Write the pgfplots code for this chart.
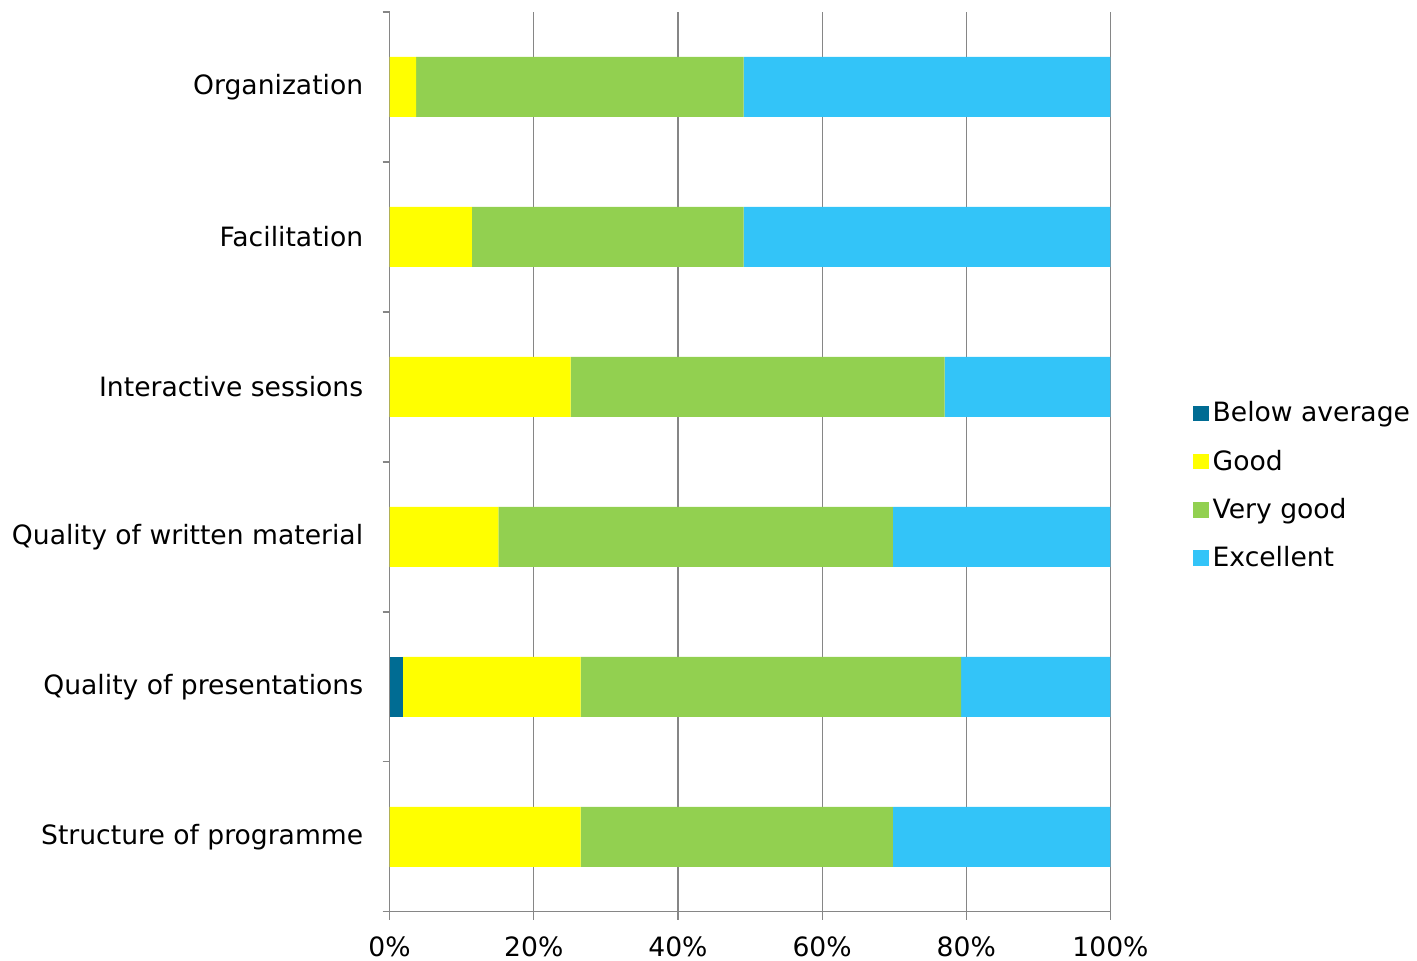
\documentclass[border=0pt]{standalone}
\usepackage{pgfplots}
\pgfplotsset{compat=1.18}
\usepackage{fontspec}
\setmainfont{DejaVu Sans}

\definecolor{cBelow}{RGB}{0,108,147}
\definecolor{cGood}{RGB}{255,255,0}
\definecolor{cVery}{RGB}{146,208,80}
\definecolor{cExc}{RGB}{51,196,248}
\definecolor{axgray}{RGB}{134,134,134}

\begin{document}
\begin{tikzpicture}
\begin{axis}[
    name=ax,
    scale only axis,
    width=360.5pt, height=450pt,
    xbar stacked,
    bar width=30pt,
    xmin=0, xmax=100,
    ymin=-0.5, ymax=5.5,
    xtick={0,20,...,100},
    xticklabel={\pgfmathprintnumber{\tick}\%},
    ytick={0,...,5},
    yticklabels={Structure of programme,Quality of presentations,Quality of written material,Interactive sessions,Facilitation,Organization},
    minor ytick={-0.5,0.5,...,5.5},
    /pgf/number format/assume math mode=true,
    font=\fontsize{13.3}{16}\selectfont,
    tick align=outside,
    major y tick style={draw=none},
    minor y tick style={draw=axgray, line width=0.6pt},
    minor tick length=3.5pt,
    xtick style={draw=axgray, line width=0.6pt},
    major tick length=4pt,
    yticklabel style={inner sep=0pt, xshift=-9pt},
    xticklabel style={inner sep=0pt, yshift=-8pt},
    xmajorgrids,
    grid style={axgray, line width=0.6pt},
    axis x line*=bottom,
    axis y line*=left,
    axis line style={axgray, line width=0.6pt},
    clip=false,
    legend style={draw=none, at={(rel axis cs:1.114,0.4736)}, anchor=west,
        row sep=8.5pt, inner sep=0pt, font=\fontsize{13.3}{16}\selectfont},
    legend cell align=left,
    legend image code/.code={\fill[#1] (0pt,-3.9pt) rectangle (7.8pt,3.9pt);},
]
\addplot[fill=cBelow, draw=none] coordinates {(0,0) (1.8,1) (0,2) (0,3) (0,4) (0,5)};
\addplot[fill=cGood, draw=none] coordinates {(26.5,0) (24.7,1) (15.1,2) (25.1,3) (11.4,4) (3.7,5)};
\addplot[fill=cVery, draw=none] coordinates {(43.3,0) (52.8,1) (54.7,2) (51.9,3) (37.7,4) (45.4,5)};
\addplot[fill=cExc, draw=none] coordinates {(30.2,0) (20.7,1) (30.2,2) (23.0,3) (50.9,4) (50.9,5)};
\legend{Below average,Good,Very good,Excellent}
\end{axis}
\path ([yshift=6pt]ax.north) ([xshift=1.5pt]ax.outer east)
      ([xshift=-6pt]ax.outer west) ([yshift=-2pt]ax.outer south);
\end{tikzpicture}
\end{document}
